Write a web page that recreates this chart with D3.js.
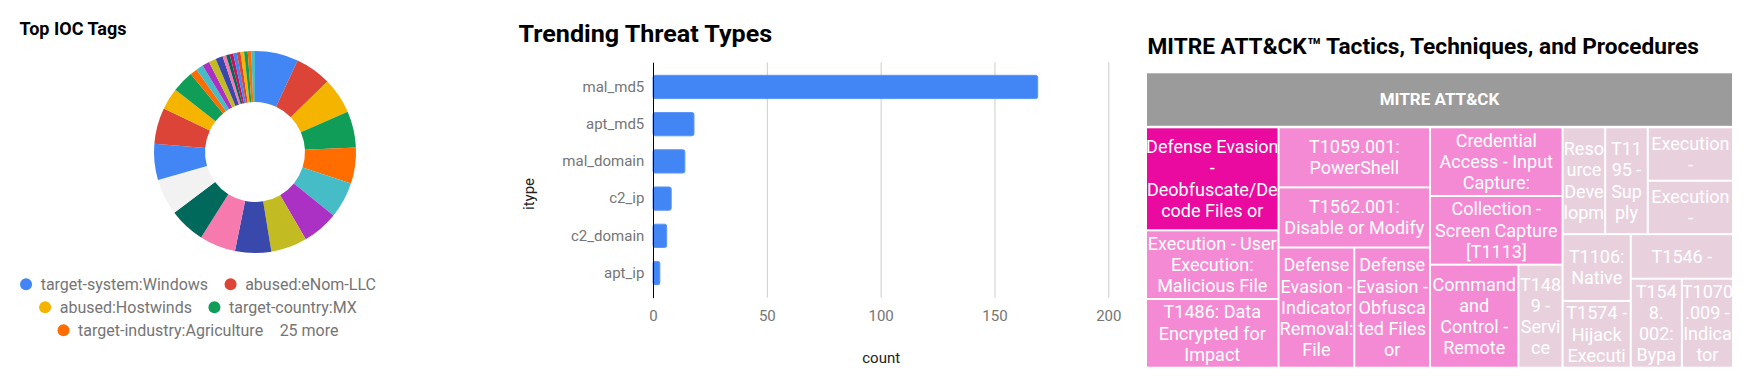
<!DOCTYPE html>
<html>
<head>
<meta charset="utf-8">
<script src="https://cdn.jsdelivr.net/npm/d3@7"></script>
<style>
  body { margin: 0; background: #fff; }
  svg { display: block; font-family: Roboto, sans-serif; }
</style>
</head>
<body>
<svg id="chart" width="1751" height="386"></svg>
<script>
// ---- data ----
const tagNames = ['target-system:Windows', 'abused:eNom-LLC', 'abused:Hostwinds', 'target-country:MX', 'target-industry:Agriculture'];
const tagCounts = [12, 10, 10, 10, 10, 10, 10, 10, 10, 10, 10, 10, 10, 10, 6, 6, 2, 2, 2, 2, 2, 1, 1, 1, 1, 1, 1, 1, 1, 1];
const tagColors = [
    '#4285f4', '#db4437', '#f4b400', '#0f9d58', '#ff6d00', '#46bdc6', '#ab30c4', '#c2bb22', '#3949ab', '#f77aae', '#00695c', '#f2f2f2',
    '#4285f4', '#db4437', '#f4b400', '#0f9d58', '#ff6d00', '#46bdc6', '#ab30c4', '#c2bb22', '#3949ab', '#f77aae', '#00695c', '#c2185b',
    '#4285f4', '#db4437', '#f4b400', '#0f9d58', '#ff6d00', '#46bdc6'
];

const threatTypes = ['mal_md5', 'apt_md5', 'mal_domain', 'c2_ip', 'c2_domain', 'apt_ip'];
const threatCounts = [169, 18, 14, 8, 6, 3];
const countTicks = [0, 50, 100, 150, 200];

// treemap leaves (label lines as displayed) and their counts
const ttpLabels = [
    ['Defense Evasion', '-', 'Deobfuscate/De', 'code Files or'],
    ['Execution - User', 'Execution:', 'Malicious File'],
    ['T1486: Data', 'Encrypted for', 'Impact'],
    ['T1059.001:', 'PowerShell'],
    ['T1562.001:', 'Disable or Modify'],
    ['Defense', 'Evasion -', 'Indicator', 'Removal:', 'File'],
    ['Defense', 'Evasion -', 'Obfusca', 'ted Files', 'or'],
    ['Credential', 'Access - Input', 'Capture:'],
    ['Collection -', 'Screen Capture', '[T1113]'],
    ['Command', 'and', 'Control -', 'Remote'],
    ['T148', '9 -', 'Servi', 'ce'],
    ['Reso', 'urce', 'Deve', 'lopm'],
    ['T11', '95 -', 'Sup', 'ply'],
    ['Execution', '-'],
    ['Execution', '-'],
    ['T1106:', 'Native'],
    ['T1574 -', 'Hijack', 'Executi'],
    ['T1546 -'],
    ['T154', '8.', '002:', 'Bypa'],
    ['T1070', '.009 -', 'Indica', 'tor']
];
const ttpCounts = [3, 2, 2, 2, 2, 2, 2, 2, 2, 2, 1, 1, 1, 1, 1, 1, 1, 1, 1, 1];
// nesting: 'h' = side by side, 'v' = stacked; numbers index the leaves
const ttpLayout = ['h',
    ['v', 0, 1, 2],
    ['v', 3, 4, ['h', 5, 6]],
    ['v', 7, 8, ['h', 9, 10]],
    ['v', ['h', 11, 12, ['v', 13, 14]], ['h', ['v', 15, 16], ['v', 17, ['h', 18, 19]]]]
];

const svg = d3.select('#chart');

// ---- Top IOC Tags ----
svg.append('text')
    .attr('x', 19.5).attr('y', 35)
    .attr('font-size', 18).attr('font-weight', 'bold').attr('fill', '#000')
    .attr('textLength', 107).attr('lengthAdjust', 'spacingAndGlyphs')
    .text('Top IOC Tags');

const pie = d3.pie().sort(null).value(d => d);
const arc = d3.arc().innerRadius(50).outerRadius(101);

svg.append('g')
    .attr('transform', 'translate(255 152)')
    .selectAll('path')
    .data(pie(tagCounts))
    .join('path')
    .attr('d', arc)
    .attr('fill', (d, i) => tagColors[i]);

const legendItems = tagNames.map((name, i) => ({ label: name, color: tagColors[i] }));
legendItems.push({ label: `${tagCounts.length - tagNames.length} more` });
const legendRows = [[legendItems[0], legendItems[1]], [legendItems[2], legendItems[3]], [legendItems[4], legendItems[5]]];

legendRows.forEach((row, r) => {
    const y = 284.3 + r * 23;
    const g = svg.append('g');
    let x = 0;
    row.forEach(it => {
        if (it.color) {
            g.append('circle').attr('cx', x + 6).attr('cy', y).attr('r', 6).attr('fill', it.color);
            x += 20.6;
        }
        const t = g.append('text')
            .attr('x', x).attr('y', y).attr('dy', '0.35em')
            .attr('font-size', 16).attr('fill', '#757575')
            .text(it.label);
        x += t.node().getComputedTextLength() + 16.5;
    });
    x -= 16.5;
    g.attr('transform', `translate(${198 - x / 2} 0)`);
});

// ---- Trending Threat Types ----
svg.append('text')
    .attr('x', 518.6).attr('y', 42.3)
    .attr('font-size', 24).attr('font-weight', 'bold').attr('fill', '#000')
    .attr('textLength', 253.5).attr('lengthAdjust', 'spacingAndGlyphs')
    .text('Trending Threat Types');

const plotTop = 62.3, plotBottom = 297.7;

const x = d3.scaleLinear()
    .domain([0, 200])
    .range([653, 1108.3]);

const y = d3.scaleBand()
    .domain(threatTypes)
    .range([plotTop, plotBottom])
    .paddingInner(0.375)
    .paddingOuter(0.35);

const xAxisG = svg.append('g')
    .attr('transform', `translate(0 ${plotBottom})`)
    .call(d3.axisBottom(x).tickValues(countTicks).tickSize(-(plotBottom - plotTop)).tickPadding(13));

xAxisG.select('.domain').remove();
xAxisG.selectAll('.tick line').attr('stroke', '#cccccc');
xAxisG.selectAll('.tick text')
    .attr('font-size', 15).attr('font-family', 'Roboto, sans-serif').attr('fill', '#757575');

svg.append('g')
    .selectAll('rect')
    .data(threatCounts)
    .join('rect')
    .attr('x', x(0))
    .attr('y', (d, i) => y(threatTypes[i]))
    .attr('width', d => x(d) - x(0))
    .attr('height', y.bandwidth())
    .attr('rx', 2)
    .attr('fill', '#4285f4')
    .attr('stroke', '#5b95f6')
    .attr('stroke-width', 1);

const yAxisG = svg.append('g')
    .attr('transform', `translate(${x(0)} 0)`)
    .call(d3.axisLeft(y).tickSize(0).tickSizeOuter(0).tickPadding(8.7));

yAxisG.select('.domain').attr('stroke', '#000');
yAxisG.selectAll('.tick text')
    .attr('font-size', 15).attr('font-family', 'Roboto, sans-serif').attr('fill', '#757575');

svg.append('text')
    .attr('transform', 'translate(528.5 194) rotate(-90)')
    .attr('text-anchor', 'middle').attr('dy', '0.35em')
    .attr('font-size', 15).attr('fill', '#222')
    .text('itype');

svg.append('text')
    .attr('transform', 'translate(881.2 358)')
    .attr('text-anchor', 'middle').attr('dy', '0.35em')
    .attr('font-size', 15).attr('fill', '#222')
    .text('count');

// ---- MITRE ATT&CK treemap ----
svg.append('text')
    .attr('x', 1147.5).attr('y', 54.3)
    .attr('font-size', 22.5).attr('font-weight', 'bold').attr('fill', '#000')
    .attr('textLength', 551.5).attr('lengthAdjust', 'spacingAndGlyphs')
    .text('MITRE ATT&CK\u2122 Tactics, Techniques, and Procedures');

const build = spec => typeof spec === 'number'
    ? { id: spec, value: ttpCounts[spec], lines: ttpLabels[spec] }
    : { dir: spec[0], children: spec.slice(1).map(build) };

const root = d3.hierarchy(build(ttpLayout)).sum(d => d.value || 0);

const tile = (node, x0, y0, x1, y1) =>
    (node.data.dir === 'h' ? d3.treemapDice : d3.treemapSlice)(node, x0, y0, x1, y1);

const headerH = 52.5;

d3.treemap()
    .size([585, 293.4])
    .tile(tile)
    .paddingInner(2)
    .paddingTop(d => d.depth === 0 ? headerH + 2.5 : 0)(root);

const color = d3.scaleLinear()
    .domain([1, 2, 3])
    .range(['#e8d1dd', '#f48ad3', '#ea0aa0']);

const gTree = svg.append('g').attr('transform', 'translate(1147 73.3)');

gTree.append('rect')
    .attr('x', root.x0).attr('y', root.y0)
    .attr('width', root.x1 - root.x0).attr('height', headerH)
    .attr('fill', '#9b9b9b');

gTree.append('text')
    .attr('x', (root.x0 + root.x1) / 2).attr('y', root.y0 + headerH / 2)
    .attr('text-anchor', 'middle').attr('dy', '0.35em')
    .attr('font-size', 17).attr('font-weight', 'bold').attr('fill', '#fff')
    .text('MITRE ATT&CK');

const leaves = gTree.selectAll('g.leaf')
    .data(root.leaves())
    .join('g')
    .attr('class', 'leaf');

leaves.append('clipPath')
    .attr('id', d => `clip-${d.data.id}`)
    .append('rect')
    .attr('x', d => d.x0).attr('y', d => d.y0)
    .attr('width', d => d.x1 - d.x0).attr('height', d => d.y1 - d.y0);

leaves.append('rect')
    .attr('x', d => d.x0).attr('y', d => d.y0)
    .attr('width', d => d.x1 - d.x0).attr('height', d => d.y1 - d.y0)
    .attr('fill', d => color(d.data.value));

const lineH = 21.3;

leaves.append('g')
    .attr('clip-path', d => `url(#clip-${d.data.id})`)
    .selectAll('text')
    .data(d => d.data.lines.map((t, i, a) => ({
        t,
        cx: (d.x0 + d.x1) / 2,
        cy: (d.y0 + d.y1) / 2 + (i - (a.length - 1) / 2) * lineH
    })))
    .join('text')
    .attr('x', d => d.cx)
    .attr('y', d => d.cy)
    .attr('dy', '0.35em')
    .attr('text-anchor', 'middle')
    .attr('font-size', 18)
    .attr('fill', '#fff')
    .text(d => d.t);
</script>
</body>
</html>
